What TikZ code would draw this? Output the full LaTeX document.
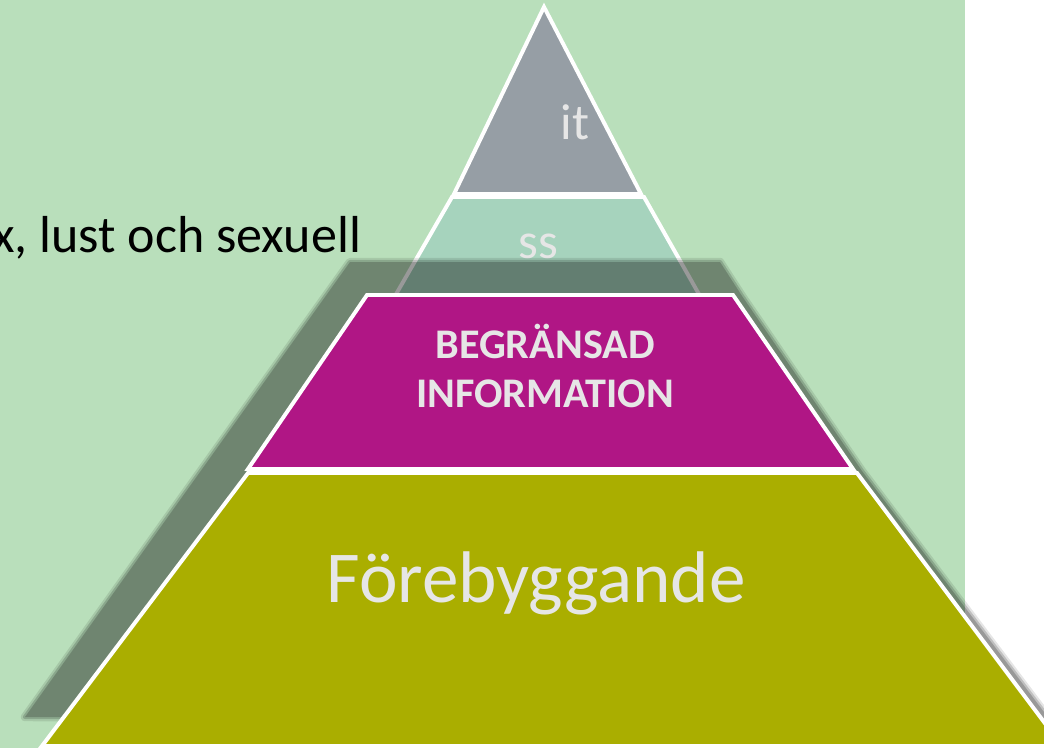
\documentclass[tikz,border=0pt]{standalone}
\usepackage{fontspec}
\setmainfont{Carlito}
\usepackage{xcolor}
\usepackage{tikz}
\usetikzlibrary{positioning}
\definecolor{bggreen}{RGB}{185,223,187}
\definecolor{topgray}{RGB}{150,158,165}
\definecolor{paleteal}{RGB}{166,211,189}
\definecolor{plum}{RGB}{176,22,133}
\definecolor{olivelayer}{RGB}{170,174,0}
\definecolor{lighttext}{RGB}{230,230,230}

\begin{document}
\begin{tikzpicture}[x=0.025cm, y=-0.025cm,
  layer/.style={draw=white, line width=2.8pt, line join=miter},
  lbl/.style={text=lighttext, inner sep=0pt}]
\useasboundingbox (0, 0) rectangle (1044, 748);
\clip (0, 0) rectangle (1044, 748);
\fill [white] (0, 0) rectangle (1044, 748);
\fill [bggreen] (0, 0) rectangle (965, 748);
\coordinate (apex) at (544, 7);
\coordinate (gl) at (454, 194);
\coordinate (gr) at (641, 194);
\coordinate (ttl) at (452, 197);
\coordinate (ttr) at (644, 197);
\coordinate (tbr) at (700, 296);
\coordinate (tbl) at (395, 296);
\coordinate (mtl) at (367, 295);
\coordinate (mtr) at (733, 295);
\coordinate (mbr) at (853, 469);
\coordinate (mbl) at (248, 469);
\coordinate (otl) at (248, 473);
\coordinate (otr) at (857, 473);
\coordinate (obr) at (1062, 746);
\coordinate (obl) at (42, 746);
\coordinate (s1) at (350, 262);
\coordinate (s2) at (720, 262);
\coordinate (s3) at (742, 296);
\coordinate (s4) at (862, 471);
\coordinate (s5) at (1050, 720);
\coordinate (s6) at (25, 717);
\node [anchor = base east, font = \fontsize{37}{44}\selectfont] (intro) at (366, 252) {x, lust och sexuell};
\draw [layer, fill = topgray] (apex) -- (gr) -- (gl) -- cycle;
\draw [layer, fill = paleteal] (ttl) -- (ttr) -- (tbr) -- (tbl) -- cycle;
\node [lbl, anchor = base, font = \fontsize{36}{43}\selectfont] (it) at (575, 140) {it};
\node [lbl, anchor = base, font = \fontsize{36}{43}\selectfont] (ss) at (538, 258) {ss};
\begin{scope}[transparency group, opacity = 0.4]
\draw [black, opacity = 0.25, line width = 6pt, line join = round] (s1) -- (s2) -- (s3) -- (s4) -- (s5) -- (s6) -- cycle;
\draw [black, opacity = 0.5, line width = 3pt, line join = round] (s1) -- (s2) -- (s3) -- (s4) -- (s5) -- (s6) -- cycle;
\fill [black] (s1) -- (s2) -- (s3) -- (s4) -- (s5) -- (s6) -- cycle;
\end{scope}
\draw [layer, fill = plum] (mtl) -- (mtr) -- (mbr) -- (mbl) -- cycle;
\draw [layer, fill = olivelayer] (otl) -- (otr) -- (obr) -- (obl) -- cycle;
\node [lbl, align = center, font = \bfseries\fontsize{30}{35}\selectfont] (begr) at (545, 366) {BEGRÄNSAD\\INFORMATION};
\node [lbl, anchor = base, font = \fontsize{52}{62}\selectfont] (foreb) at (536, 602) {Förebyggande};
\end{tikzpicture}
\end{document}
